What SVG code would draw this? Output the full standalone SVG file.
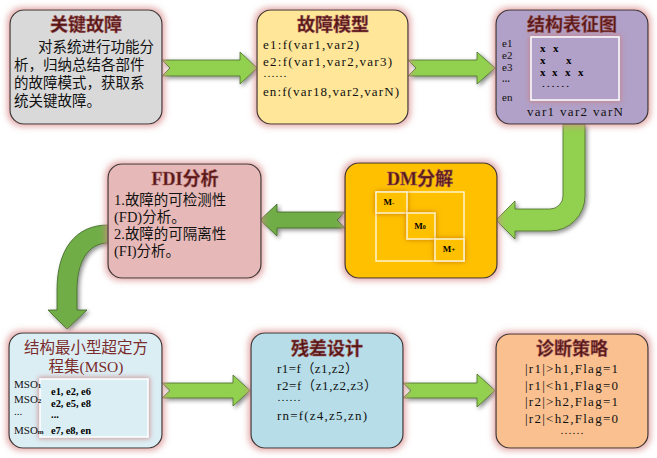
<svg xmlns="http://www.w3.org/2000/svg" width="657" height="458" viewBox="0 0 657 458">
<defs>
<filter id="glow" x="-20%" y="-20%" width="140%" height="140%">
<feMorphology in="SourceAlpha" operator="dilate" radius="2" result="d"/>
<feGaussianBlur in="d" stdDeviation="3" result="b"/>
<feFlood flood-color="#d98a8a" flood-opacity="0.75"/>
<feComposite in2="b" operator="in" result="g"/>
<feMerge><feMergeNode in="g"/><feMergeNode in="SourceGraphic"/></feMerge>
</filter>
<filter id="inglow" x="-20%" y="-20%" width="140%" height="140%">
<feMorphology in="SourceAlpha" operator="dilate" radius="1" result="d"/>
<feGaussianBlur in="d" stdDeviation="2.5" result="b"/>
<feFlood flood-color="#c98080" flood-opacity="0.8"/>
<feComposite in2="b" operator="in" result="g"/>
<feMerge><feMergeNode in="g"/><feMergeNode in="SourceGraphic"/></feMerge>
</filter>
<filter id="oglow" x="-30%" y="-30%" width="160%" height="160%">
<feGaussianBlur in="SourceAlpha" stdDeviation="2.5" result="b"/>
<feFlood flood-color="#b86a00" flood-opacity="0.8"/>
<feComposite in2="b" operator="in" result="g"/>
<feMerge><feMergeNode in="g"/><feMergeNode in="SourceGraphic"/></feMerge>
</filter>
<filter id="shadow" x="-20%" y="-20%" width="150%" height="150%">
<feDropShadow dx="2" dy="2" stdDeviation="2" flood-color="#000" flood-opacity="0.45"/>
</filter>
<style>
.box{stroke:#333;stroke-width:1.2;filter:url(#glow)}
.arrL{fill:#92d050;stroke:#4a6b2a;stroke-width:0.8;filter:url(#shadow)}
.arrD{fill:#70ad47;stroke:#3c6626;stroke-width:0.8;filter:url(#shadow)}
.title{font-family:"Liberation Serif","Noto Sans CJK SC",serif;font-size:18px;font-weight:bold;fill:#561616;stroke:#a05a5a;stroke-width:0.5;text-anchor:middle}
.title2{font-family:"Liberation Serif","Noto Sans CJK SC",serif;font-size:15.5px;font-weight:normal;fill:#7b2c2c;text-anchor:middle}
.cn{font-family:"Liberation Serif","Noto Sans CJK SC",serif;font-size:14.5px;fill:#111}
.lat{font-family:"Liberation Serif","Noto Sans CJK SC",serif;font-size:13px;fill:#111}
.dots{font-family:"Liberation Serif",serif;font-size:10px;fill:#111}
.sm{font-family:"Liberation Serif","Noto Sans CJK SC",serif;font-size:11px;fill:#111}
.smb{font-family:"Liberation Serif",serif;font-size:10.5px;font-weight:bold;fill:#000}
.bx{font-family:"Liberation Serif",serif;font-size:11px;font-weight:bold;fill:#000}
.mini{font-family:"Liberation Serif",serif;font-size:9px;font-weight:bold;fill:#000;text-anchor:middle}
</style>
</defs>
<rect width="657" height="458" fill="#fff"/>
<g id="connectors">
<polygon class="arrL" points="162,60 240,60 240,52 257,68 240,84 240,76 162,76 170,68"/>
<polygon class="arrL" points="408,60 477,60 477,52 495,68 477,84 477,76 408,76 416,68"/>
<path class="arrL" d="M563,124 L585,124 L585,196 A35,35 0 0 1 550,231 L515,231 L515,239 L496,220 L515,201 L515,209 L550,209 A13,13 0 0 0 563,196 Z"/>
<polygon class="arrD" points="345,212 277,212 277,204 260,220 277,236 277,228 345,228 337,220"/>
<path class="arrD" d="M108,225 C75,225 57,250 57,290 L57,310 L48,310 L67,329 L87,310 L77,310 L77,290 C77,262 88,243 108,243 Z"/>
<polygon class="arrL" points="162,383 233,383 233,375 250,390.5 233,406 233,398 162,398 170,390.5"/>
<polygon class="arrL" points="403,383 477,383 477,374 495,390.5 477,407 477,398 403,398 411,390.5"/>
</g>
<g id="node-key-fault">
<rect class="box" x="10" y="10" width="152" height="114" rx="14" fill="#d9d9d9"/>
<text class="title" x="86" y="31">关键故障</text>
<text class="cn" x="38" y="52">对系统进行功能分</text>
<text class="cn" x="14" y="70">析，归纳总结各部件</text>
<text class="cn" x="14" y="88">的故障模式，获取系</text>
<text class="cn" x="14" y="106">统关键故障。</text>
</g>
<g id="node-fault-model">
<rect class="box" x="257" y="10" width="151" height="114" rx="14" fill="#ffe699"/>
<text class="title" x="333" y="31">故障模型</text>
<text class="lat" x="263" y="49" textLength="96" lengthAdjust="spacing">e1:f(var1,var2)</text>
<text class="lat" x="263" y="66" textLength="129" lengthAdjust="spacing">e2:f(var1,var2,var3)</text>
<text class="dots" x="263" y="77" textLength="24" lengthAdjust="spacingAndGlyphs">……</text>
<text class="lat" x="263" y="96" textLength="136" lengthAdjust="spacing">en:f(var18,var2,varN)</text>
</g>
<g id="node-structure-graph">
<rect class="box" x="496" y="10" width="152" height="114" rx="14" fill="#b1a0c7"/>
<text class="title" x="572" y="31">结构表征图</text>
<rect x="531" y="37" width="88" height="63" fill="#b1a0c7" stroke="#fff" stroke-width="1.5" filter="url(#inglow)"/>
<text class="sm" x="502" y="47">e1</text>
<text class="sm" x="502" y="59">e2</text>
<text class="sm" x="502" y="71">e3</text>
<text class="dots" x="502" y="82" font-size="8" font-weight="bold" textLength="8" lengthAdjust="spacingAndGlyphs">…</text>
<text class="sm" x="502" y="101">en</text>
<text class="lat" x="527" y="116" textLength="96" lengthAdjust="spacing">var1 var2 varN</text>
<text class="bx" x="540" y="52">x</text><text class="bx" x="553" y="52">x</text>
<text class="bx" x="540" y="64">x</text><text class="bx" x="566" y="64">x</text>
<text class="bx" x="540" y="76">x</text><text class="bx" x="552" y="76">x</text><text class="bx" x="565" y="76">x</text><text class="bx" x="578" y="76">x</text>
<text class="dots" x="541" y="87" font-size="8" textLength="29" lengthAdjust="spacingAndGlyphs">……</text>
</g>
<g id="node-dm">
<rect class="box" x="345" y="163" width="152" height="115" rx="14" fill="#ffc000"/>
<text class="title" x="420" y="185">DM分解</text>
<rect x="376" y="192" width="88" height="69" fill="none" stroke="#fff2cc" stroke-width="1.5"/>
<rect x="376" y="192" width="31" height="21" fill="#ffc000" stroke="#fff2cc" stroke-width="1.5" filter="url(#oglow)"/>
<rect x="407" y="213" width="28" height="26" fill="#ffc000" stroke="#fff2cc" stroke-width="1.5" filter="url(#oglow)"/>
<rect x="435" y="239" width="29" height="22" fill="#ffc000" stroke="#fff2cc" stroke-width="1.5" filter="url(#oglow)"/>
<text class="mini" x="389" y="205">M<tspan font-size="7">-</tspan></text>
<text class="mini" x="420" y="229">M<tspan font-size="6">0</tspan></text>
<text class="mini" x="449" y="252">M<tspan font-size="7">+</tspan></text>
</g>
<g id="node-fdi">
<rect class="box" x="108" y="164" width="153" height="114" rx="14" fill="#e6b9b8"/>
<text class="title" x="185" y="185">FDI分析</text>
<text class="cn" x="114" y="205">1.故障的可检测性</text>
<text class="cn" x="114" y="222">(FD)分析。</text>
<text class="cn" x="114" y="239">2.故障的可隔离性</text>
<text class="cn" x="114" y="256">(FI)分析。</text>
</g>
<g id="node-mso">
<rect class="box" x="9" y="333" width="153" height="115" rx="14" fill="#dbeef4"/>
<text class="title2" x="86" y="353">结构最小型超定方</text>
<text class="title2" x="86" y="372">程集(MSO)</text>
<rect x="40" y="379" width="108" height="58" fill="#dbeef4" stroke="#fff" stroke-width="1.5" filter="url(#inglow)"/>
<text class="sm" x="14" y="388">MSO<tspan font-size="7" font-weight="bold">1</tspan></text>
<text class="sm" x="14" y="403">MSO<tspan font-size="7" font-weight="bold">2</tspan></text>
<text class="sm" x="14" y="415">...</text>
<text class="sm" x="14" y="434">MSO<tspan font-size="7" font-weight="bold">m</tspan></text>
<text class="smb" x="51" y="395" textLength="40" lengthAdjust="spacing">e1, e2, e6</text>
<text class="smb" x="51" y="407" textLength="40" lengthAdjust="spacing">e2, e5, e8</text>
<text class="smb" x="51" y="418">...</text>
<text class="smb" x="51" y="434" textLength="40" lengthAdjust="spacing">e7, e8, en</text>
</g>
<g id="node-residual">
<rect class="box" x="251" y="333" width="152" height="115" rx="14" fill="#b7dee8"/>
<text class="title" x="327" y="355">残差设计</text>
<text class="lat" x="277" y="373" textLength="81" lengthAdjust="spacing">r1=f（z1,z2）</text>
<text class="lat" x="277" y="390" textLength="100" lengthAdjust="spacing">r2=f（z1,z2,z3）</text>
<text class="dots" x="277" y="401" textLength="24" lengthAdjust="spacingAndGlyphs">……</text>
<text class="lat" x="277" y="420" textLength="90" lengthAdjust="spacing">rn=f(z4,z5,zn)</text>
</g>
<g id="node-strategy">
<rect class="box" x="496" y="334" width="152" height="114" rx="14" fill="#fac090"/>
<text class="title" x="572" y="355">诊断策略</text>
<text class="lat" x="525" y="373" textLength="93" lengthAdjust="spacing">|r1|&gt;h1,Flag=1</text>
<text class="lat" x="525" y="390" textLength="93" lengthAdjust="spacing">|r1|&lt;h1,Flag=0</text>
<text class="lat" x="525" y="406" textLength="93" lengthAdjust="spacing">|r2|&gt;h2,Flag=1</text>
<text class="lat" x="525" y="423" textLength="93" lengthAdjust="spacing">|r2|&lt;h2,Flag=0</text>
<text class="dots" x="560" y="434" textLength="24" lengthAdjust="spacingAndGlyphs">……</text>
</g>
</svg>
